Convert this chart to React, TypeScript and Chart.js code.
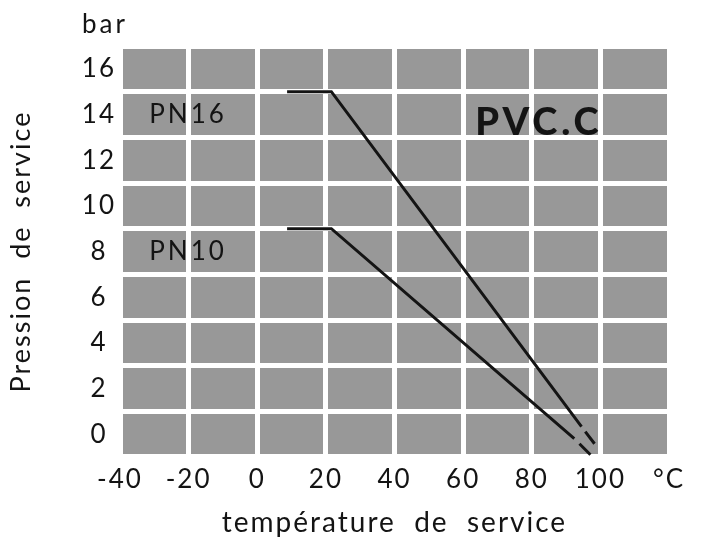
import { useEffect, useRef } from 'react';
import { Chart, registerables } from 'chart.js';

Chart.register(...registerables);

// ---- data ----
const xTicks = [-40, -20, 0, 20, 40, 60, 80, 100, 120];
const xTickLabels = ['-40', '-20', '0', '20', '40', '60', '80', '100', '°C'];
const yTicks = [0, 2, 4, 6, 8, 10, 12, 14, 16];

// null marks the small break before the dashed tail of each curve
const pn16X = [8.7, 21.6, 94.5, 95.0, 95.6, 98.3];
const pn16Y: (number | null)[] = [15, 15, 0.33, null, 0.11, -0.42];
const pn10X = [8.7, 21.6, 92.4, 93.1, 93.9, 97.1];
const pn10Y: (number | null)[] = [9, 9, -0.2, null, -0.42, -0.9];

const seriesNames = ['PN16', 'PN10'];
const productName = 'PVC.C';
const unitName = 'bar';
const xTitle = 'température  de  service';
const yTitle = 'Pression  de  service';

const FONT = 'Lato, "Open Sans", "DejaVu Sans", sans-serif';
const INK = '#141414';
const CELL = '#989898';

const decorPlugin = {
  id: 'decor',
  beforeDraw(chart: any) {
    const { ctx, chartArea } = chart;
    ctx.save();
    ctx.fillStyle = CELL;
    ctx.fillRect(chartArea.left, chartArea.top, chartArea.right - chartArea.left, chartArea.bottom - chartArea.top);
    ctx.restore();
    (ctx as any).letterSpacing = '2px';
  },
  afterDraw(chart: any) {
    const { ctx, chartArea } = chart;
    const xs = chart.scales.x;
    const ys = chart.scales.y;
    ctx.save();
    (ctx as any).letterSpacing = '3px';
    ctx.fillStyle = INK;
    ctx.textBaseline = 'middle';
    ctx.textAlign = 'left';
    ctx.font = `26px ${FONT}`;
    ctx.fillText(seriesNames[0], xs.getPixelForValue(-31.5), ys.getPixelForValue(14));
    ctx.fillText(seriesNames[1], xs.getPixelForValue(-31.5), ys.getPixelForValue(8));
    ctx.font = `900 38px ${FONT}`;
    (ctx as any).letterSpacing = '4px';
    ctx.fillText(productName, xs.getPixelForValue(63.5), ys.getPixelForValue(13.65));
    (ctx as any).letterSpacing = '3px';
    ctx.font = `26px ${FONT}`;
    ctx.textAlign = 'center';
    ctx.fillText(unitName, chartArea.left - 15, chartArea.top - 21);
    ctx.restore();
  },
};

export default function App() {
  const ref = useRef<HTMLCanvasElement | null>(null);

  useEffect(() => {
    if (!ref.current) return;
    const mk = (xsArr: number[], ysArr: (number | null)[]) =>
      xsArr.map((x, i) => ({ x, y: ysArr[i] }));
    const chart = new Chart(ref.current, {
      type: 'line',
      data: {
        datasets: [
          {
            label: seriesNames[0],
            data: mk(pn16X, pn16Y) as any,
            borderColor: INK,
            borderWidth: 3,
            pointRadius: 0,
            tension: 0,
            spanGaps: false,
          },
          {
            label: seriesNames[1],
            data: mk(pn10X, pn10Y) as any,
            borderColor: INK,
            borderWidth: 3,
            pointRadius: 0,
            tension: 0,
            spanGaps: false,
          },
        ],
      },
      options: {
        animation: false,
        responsive: true,
        maintainAspectRatio: false,
        layout: { padding: { left: 0, right: 34, top: 46, bottom: 0 } },
        plugins: {
          legend: { display: false },
          tooltip: { enabled: false },
        },
        scales: {
          x: {
            type: 'linear',
            min: -40,
            max: 120,
            afterBuildTicks: (s: any) => {
              s.ticks = xTicks.map((v) => ({ value: v }));
            },
            afterFit: (s: any) => {
              s.height = 90;
            },
            ticks: {
              callback: (_v: any, i: number) => xTickLabels[i],
              font: { family: FONT, size: 26 },
              color: INK,
              padding: 7,
              maxRotation: 0,
              autoSkip: false,
            },
            grid: { color: '#ffffff', lineWidth: 5, drawTicks: false },
            border: { display: false },
            title: {
              display: true,
              text: xTitle,
              font: { family: FONT, size: 28 },
              color: INK,
              padding: { top: 0, bottom: 7 },
            },
          },
          y: {
            type: 'linear',
            min: -1,
            max: 17,
            afterBuildTicks: (s: any) => {
              s.ticks = yTicks.map((v) => ({ value: v }));
            },
            afterFit: (s: any) => {
              s.width = 120;
            },
            ticks: {
              callback: (v: any) => String(v),
              font: { family: FONT, size: 26 },
              color: INK,
              padding: 6,
              crossAlign: 'center',
              autoSkip: false,
            },
            grid: { color: '#ffffff', lineWidth: 5, drawTicks: false, offset: true },
            border: { display: false },
            title: {
              display: true,
              text: yTitle,
              font: { family: FONT, size: 27 },
              color: INK,
              padding: { top: 5, bottom: 0 },
            },
          },
        },
      },
      plugins: [decorPlugin],
    });
    return () => chart.destroy();
  }, []);

  return (
    <div style={{ position: 'fixed', left: 0, top: 0, width: 703, height: 547, background: '#fff' }}>
      <canvas ref={ref} />
    </div>
  );
}
